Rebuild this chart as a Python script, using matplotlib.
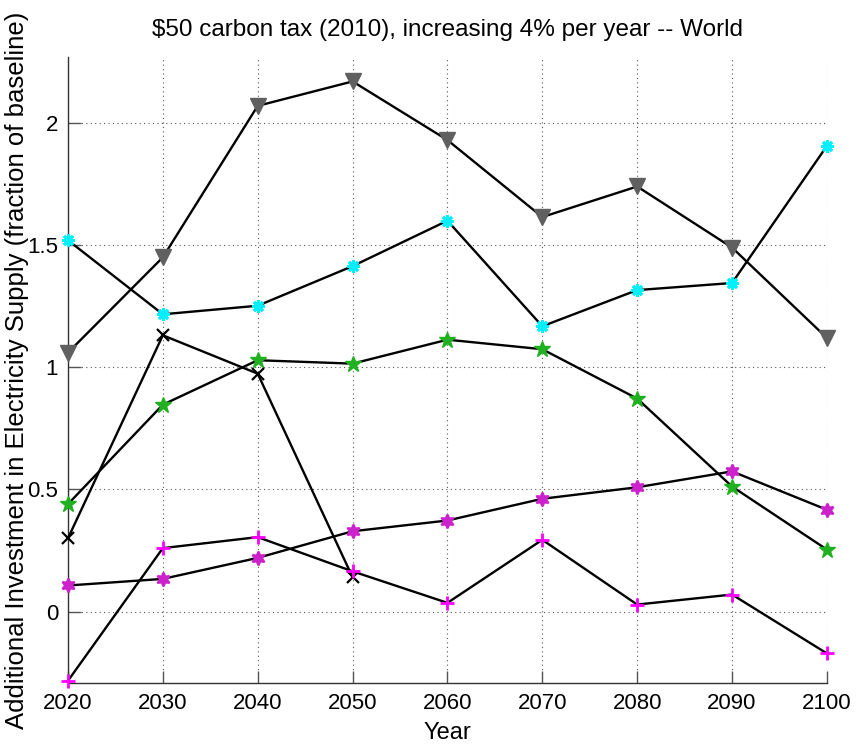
import matplotlib
matplotlib.use('Agg')
import matplotlib.pyplot as plt
from matplotlib.ticker import FuncFormatter

plt.rcParams['font.family'] = ['Liberation Sans', 'DejaVu Sans']

# Decadal years
years = [2020, 2030, 2040, 2050, 2060, 2070, 2080, 2090, 2100]

# Additional investment, fraction of baseline
gray_tri = [1.06, 1.45, 2.07, 2.17, 1.93, 1.615, 1.74, 1.49, 1.12]
cyan_ast = [1.52, 1.217, 1.252, 1.414, 1.60, 1.168, 1.316, 1.345, 1.906]
green_star = [0.44, 0.847, 1.029, 1.015, 1.113, 1.074, 0.872, 0.512, 0.254]
purple_hex = [0.107, 0.134, 0.22, 0.329, 0.373, 0.462, 0.509, 0.574, 0.417]
magenta_plus = [-0.283, 0.26, 0.305, 0.165, 0.036, 0.294, 0.029, 0.07, -0.171]
black_x_years = [2020, 2030, 2040, 2050]
black_x = [0.30, 1.131, 0.974, 0.141]

fig = plt.figure(figsize=(8.57, 7.44), dpi=100)
ax = fig.add_axes([0.0793, 0.082, 0.8856, 0.8414])

lw = 1.7
kw = dict(color='black', lw=lw, zorder=3, clip_on=False)
ax.plot(years, gray_tri, marker='v', ms=11, mfc='#606060', mec='#606060', **kw)
ax.plot(years, cyan_ast, marker=(8, 2, 0), ms=9, mec='#00f0ff', mew=2.0, **kw)
ax.plot(years, green_star, marker='*', ms=12, mfc='#20b020', mec='#20b020', **kw)
ax.plot(black_x_years, black_x, marker='x', ms=8, mec='black', mew=1.6, **kw)
ax.plot(years, purple_hex, marker=(6, 1, 0), ms=10, mfc='#cc22cc', mec='#cc22cc',
        mew=1.5, **kw)
ax.plot(years, magenta_plus, marker='+', ms=10, mec='#ff00ff', mew=2.0, **kw)

ax.set_xlim(2020, 2100)
ax.set_ylim(-0.292, 2.27)
ax.set_xticks(years)
ax.set_yticks([0, 0.5, 1, 1.5, 2])
ax.yaxis.set_major_formatter(FuncFormatter(lambda v, p: '%g' % v))

ax.grid(True, linestyle=(0, (1, 3)), color='#555555', lw=0.8)
for side in ['top', 'right']:
    ax.spines[side].set_visible(False)
for side in ['left', 'bottom']:
    ax.spines[side].set_color('#333333')
    ax.spines[side].set_linewidth(1.0)
ax.tick_params(direction='in', length=9, width=1, color='#555555',
               labelsize=16, pad=7)

ax.set_title(r'\$50 carbon tax (2010), increasing 4% per year -- World',
             fontsize=17.5, pad=15)
ax.set_xlabel('Year', fontsize=17, labelpad=6)
ax.set_ylabel('Additional Investment in Electricity Supply (fraction of baseline)',
              fontsize=18.5, labelpad=-1)

fig.savefig('out.png', dpi=100)
